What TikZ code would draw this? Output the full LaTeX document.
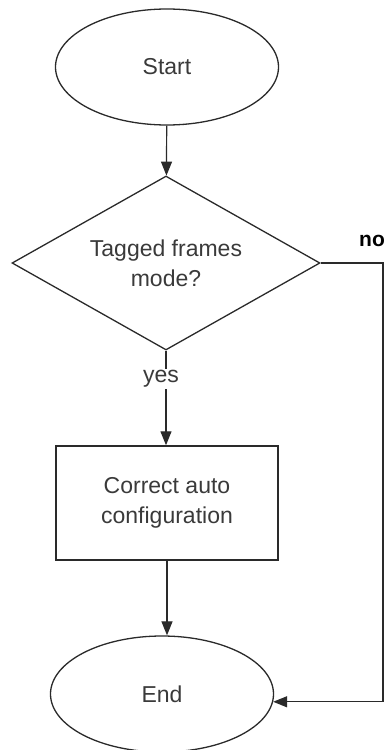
\documentclass[tikz,border=0pt]{standalone}
\usepackage{fontspec}
\setmainfont{Liberation Sans}
\usetikzlibrary{shapes.geometric,arrows.meta}
\definecolor{ink}{HTML}{2A2A2A}
\definecolor{txt}{HTML}{3A3A3A}
\begin{document}
\begin{tikzpicture}[x=1pt,y=-1pt,
  every node/.style={font=\fontsize{23}{30}\selectfont, text=txt, inner sep=0pt},
  term/.style={ellipse, draw=ink, line width=1.3pt, minimum width=223pt, minimum height=116pt},
  decide/.style={diamond, shape aspect=2, draw=ink, line width=1.3pt, minimum width=308pt, minimum height=174pt, align=center},
  proc/.style={rectangle, draw=ink, line width=1.5pt, minimum width=222pt, minimum height=114pt, align=center},
  flow/.style={draw=ink, line width=1.2pt, -{Triangle[length=14pt,width=11pt]}},
  lbl/.style={fill=white, inner sep=1pt}]
  \useasboundingbox (0,0) rectangle (388,750);

  \node[term]   (start) at (167,67)  {Start};
  \node[decide] (mode)  at (166,263) {Tagged frames\\mode?};
  \node[proc]   (fix)   at (167,503) {Correct auto\\configuration};
  \node[term]   (end)   at (162,694) {End};
  \coordinate (turn) at (383,263);

  \draw[flow] (start) -- (mode);
  \draw[flow] (mode.south) -- (fix.north -| mode.south);
  \node[lbl] (yes) at (161,379) {yes};
  \draw[flow] (fix.south) -- (fix.south |- end.north);
  \draw[flow] (mode.east) -- (turn) |- (end.-4);
  \node[text=black, font=\fontsize{21}{24}\bfseries\selectfont] (no) at (372,241) {no};
\end{tikzpicture}
\end{document}
